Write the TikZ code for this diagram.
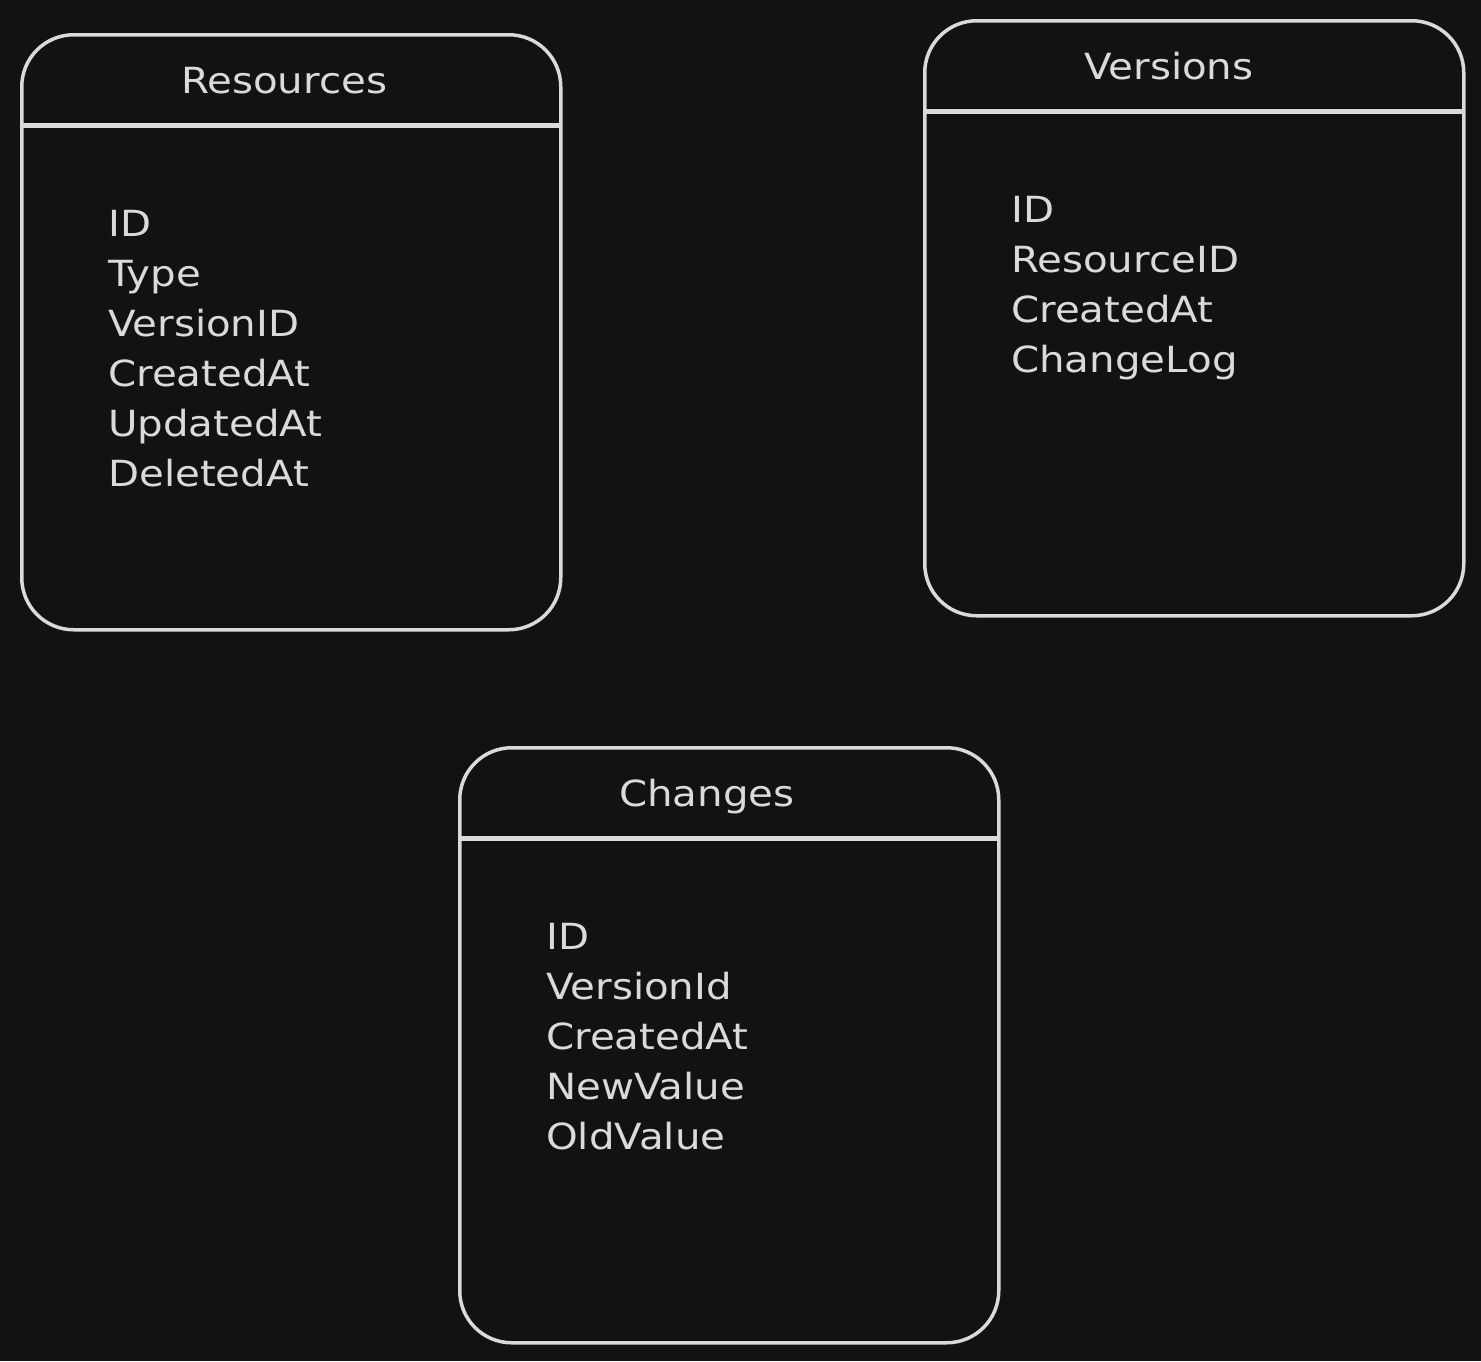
\documentclass[tikz,border=0pt]{standalone}
\usepackage{fontspec}
\setmainfont[FakeStretch=1.12]{DejaVu Sans}
\definecolor{bgc}{HTML}{121212}
\definecolor{inkc}{HTML}{DADADA}
\begin{document}
\begin{tikzpicture}[x=1pt,y=-1pt,
  tablebox/.style={draw=inkc, line width=3.5pt, rounded corners=52pt, fill=bgc,
    minimum width=539pt, minimum height=595pt, anchor=north west, inner sep=0pt},
  hdrline/.style={draw=inkc, line width=5pt},
  titletxt/.style={text=inkc, anchor=base west, inner sep=0pt, font=\fontsize{36}{40}\selectfont},
  itemtxt/.style={text=inkc, anchor=base west, inner sep=0pt, font=\fontsize{36}{40}\selectfont}]
\fill[bgc] (0,0) rectangle (1481,1361);
\useasboundingbox (0,0) rectangle (1481,1361);

% Resources
\node[tablebox] (res) at (20,33) {};
\draw[hdrline] ([xshift=3pt,yshift=-92pt]res.north west) -- ([xshift=-1pt,yshift=-92pt]res.north east);
\node[titletxt] (resT) at ([xshift=161pt,yshift=-60pt]res.north west) {Resources};
\foreach \t [count=\i] in {ID,Type,VersionID,CreatedAt,UpdatedAt,DeletedAt}
  \node[itemtxt] (res\i) at ([xshift=88pt,yshift={-203pt-50pt*(\i-1)}]res.north west) {\t};

% Versions
\node[tablebox] (ver) at (923,19) {};
\draw[hdrline] ([xshift=3pt,yshift=-92pt]ver.north west) -- ([xshift=-1pt,yshift=-92pt]ver.north east);
\node[titletxt] (verT) at ([xshift=161pt,yshift=-60pt]ver.north west) {Versions};
\foreach \t [count=\i] in {ID,ResourceID,CreatedAt,ChangeLog}
  \node[itemtxt] (ver\i) at ([xshift=88pt,yshift={-203pt-50pt*(\i-1)}]ver.north west) {\t};

% Changes
\node[tablebox] (chg) at (458,746) {};
\draw[hdrline] ([xshift=3pt,yshift=-92pt]chg.north west) -- ([xshift=-1pt,yshift=-92pt]chg.north east);
\node[titletxt] (chgT) at ([xshift=161pt,yshift=-60pt]chg.north west) {Changes};
\foreach \t [count=\i] in {ID,VersionId,CreatedAt,NewValue,OldValue}
  \node[itemtxt] (chg\i) at ([xshift=88pt,yshift={-203pt-50pt*(\i-1)}]chg.north west) {\t};
\end{tikzpicture}
\end{document}
